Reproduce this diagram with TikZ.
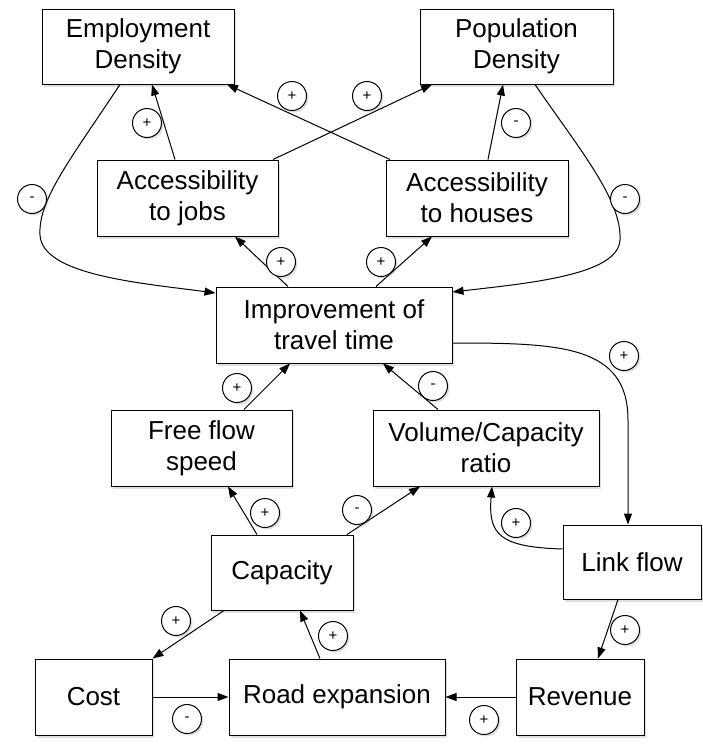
\documentclass[tikz,border=0pt]{standalone}
\usepackage{fontspec}
\setmainfont{Liberation Sans}
\usetikzlibrary{arrows.meta,shadows}
\begin{document}
\begin{tikzpicture}[x=1pt,y=-1pt,
 box/.style={draw=black, line width=1pt, fill=white, align=center, inner sep=0pt,
   font=\fontsize{26}{31}\selectfont,
   drop shadow={opacity=0.25, shadow xshift=2pt, shadow yshift=-3pt}},
 sign/.style={circle, draw=black, fill=white, line width=1pt, minimum size=29pt, inner sep=0pt,
   font=\fontsize{15}{15}\selectfont,
   drop shadow={opacity=0.25, shadow xshift=2pt, shadow yshift=-2pt}},
 arr/.style={line width=1pt, -{Triangle[length=11pt,width=8pt]}}]
\useasboundingbox (0,0) rectangle (703,750);

% boxes
\node[box, minimum width=192pt, minimum height=75pt] (emp) at (138,46.5) {Employment\\Density};
\node[box, minimum width=193pt, minimum height=75pt] (pop) at (516.5,46.5) {Population\\Density};
\node[box, minimum width=181pt, minimum height=76pt] (jobs) at (187.5,198) {Accessibility\\to jobs};
\node[box, minimum width=182pt, minimum height=76pt] (houses) at (477,198) {Accessibility\\to houses};
\node[box, minimum width=236pt, minimum height=76pt] (impr) at (334,325) {Improvement of\\travel time};
\node[box, minimum width=181pt, minimum height=76pt] (ffs) at (201.5,448) {Free flow\\speed};
\node[box, minimum width=226pt, minimum height=76pt] (vc) at (486,448) {Volume/Capacity\\ratio};
\node[box, minimum width=142pt, minimum height=75pt] (cap) at (282,572.5) {Capacity};
\node[box, minimum width=117pt, minimum height=76pt] (cost) at (93.5,697) {Cost};
\node[box, minimum width=216pt, minimum height=76pt] (road) at (337,697) {Road expansion};
\node[box, minimum width=128pt, minimum height=76pt] (rev) at (580,697) {Revenue};
\node[box, minimum width=138pt, minimum height=74pt] (link) at (632,562) {Link flow};

% connectors
\draw[arr] (175,0 |- jobs.north) -- (152,0 |- emp.south);
\draw[arr] (390,0 |- houses.north) -- (227,0 |- emp.south);
\draw[arr] (273,0 |- jobs.north) -- (432,0 |- pop.south);
\draw[arr] (488,0 |- houses.north) -- (503,0 |- pop.south);
\draw[arr] (120,0 |- emp.south) .. controls (70,160) and (38,200) .. (40,235)
   .. controls (42,275) and (140,283) .. (impr.west |- 0,293);
\draw[arr] (535,0 |- pop.south) .. controls (580,150) and (622,200) .. (620,240)
   .. controls (618,275) and (530,283) .. (impr.east |- 0,292);
\draw[arr] (288,0 |- impr.north) -- (235,0 |- jobs.south);
\draw[arr] (376,0 |- impr.north) -- (432,0 |- houses.south);
\draw[arr] (244,0 |- ffs.north) -- (290,0 |- impr.south);
\draw[arr] (438,0 |- vc.north) -- (383,0 |- impr.south);
\draw[arr] (impr.east |- 0,343) .. controls (560,343) and (628,345) .. (628,420) -- (628,0 |- link.north);
\draw[arr] (257,0 |- cap.north) -- (228,0 |- ffs.south);
\draw[arr] (347,0 |- cap.north) -- (420,0 |- vc.south);
\draw[arr] (link.west |- 0,549) .. controls (500,547) and (488,535) .. (492,0 |- vc.south);
\draw[arr] (224,0 |- cap.south) -- (cost.north east);
\draw[arr] (320,0 |- road.north) -- (300,0 |- cap.south);
\draw[arr] (cost.east) -- (road.west);
\draw[arr] (rev.west) -- (road.east);
\draw[arr] (618,0 |- link.south) -- (598,0 |- rev.north);

% polarity signs
\node[sign] (s1) at (147,123) {+};
\node[sign] (s2) at (292,96) {+};
\node[sign] (s3) at (367,96) {+};
\node[sign] (s4) at (516,123) {-};
\node[sign] (s5) at (32,199) {-};
\node[sign] (s6) at (625,199) {-};
\node[sign] (s7) at (281,262) {+};
\node[sign] (s8) at (381,262) {+};
\node[sign] (s9) at (237,388) {+};
\node[sign] (s10) at (433,386) {-};
\node[sign] (s11) at (624,356) {+};
\node[sign] (s12) at (265,513) {+};
\node[sign] (s13) at (357,510) {-};
\node[sign] (s14) at (516,523) {+};
\node[sign] (s15) at (176,621) {+};
\node[sign] (s16) at (333,636) {+};
\node[sign] (s17) at (187,719) {-};
\node[sign] (s18) at (484,720) {+};
\node[sign] (s19) at (625,630) {+};
\end{tikzpicture}
\end{document}
